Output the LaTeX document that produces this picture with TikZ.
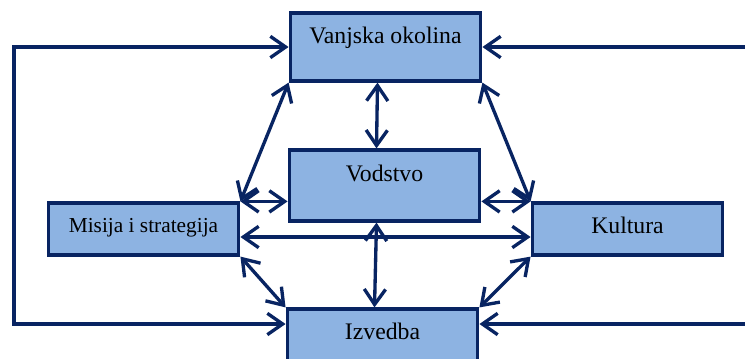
\documentclass[tikz,border=0pt]{standalone}
\usepackage{fontspec}
\setmainfont{Liberation Serif}
\usetikzlibrary{arrows.meta}
\definecolor{navy}{RGB}{8,36,98}
\definecolor{boxblue}{RGB}{141,179,226}
\tikzset{
  box/.style={draw=navy,fill=boxblue,line width=2.4pt,minimum width=143pt,inner sep=0pt,
    font=\fontsize{17.8}{20}\selectfont,text height=11.8pt},
  link/.style={draw=navy,line width=2.5pt}
}
\begin{document}
\begin{tikzpicture}[x=0.75pt,y=-0.75pt,>={Straight Barb[length=11.5pt,width=16pt]}]
    \useasboundingbox (0,0) rectangle (745,358);
    % boxes
    \node[box,minimum height=51pt,text depth=16.5pt] (vanjska) at (385.5,47) {Vanjska okolina};
    \node[box,minimum height=53.25pt,text depth=18pt] (vodstvo) at (384.5,185.5) {Vodstvo};
    \node[box,minimum height=39pt,text depth=6pt,font=\fontsize{16}{18}\selectfont,text height=10.6pt] (misija) at (143.5,229) {Misija i strategija};
    \node[box,minimum height=39pt,text depth=5.25pt] (kultura) at (627.5,229) {Kultura};
    \node[box,minimum height=51pt,text depth=16.5pt] (izvedba) at (382.5,343) {Izvedba};
    % loop on the left, inputs from the right
    \coordinate (loopL) at (14,324);
    \coordinate (inR1) at (752,47);
    \coordinate (inR2) at (752,324);
    \draw[link,<->] (vanjska.west) -| (loopL) -- (loopL -| izvedba.west);
    \draw[link,->] (inR1) -- (vanjska.east);
    \draw[link,->] (inR2) -- (inR2 -| izvedba.east);
    % vertical
    \draw[link,<->] ([xshift=-6pt]vanjska.south) -- ([xshift=-6pt]vodstvo.north);
    \draw[link,<->] ([xshift=-6pt]vodstvo.south) -- ([xshift=-6pt]izvedba.north);
    % diagonals
    \draw[link,<->] (vanjska.south west) -- (misija.north east);
    \draw[link,<->] (vanjska.south east) -- (kultura.north west);
    \draw[link,<->] (misija.south east) -- (izvedba.north west);
    \draw[link,<->] (kultura.south west) -- (izvedba.north east);
    % horizontal
    \draw[link,<->] (misija.north east) -- (misija.north east -| vodstvo.west);
    \draw[link,<->] (kultura.north west -| vodstvo.east) -- (kultura.north west);
    \draw[link,<->] ([yshift=-6pt]misija.east) -- ([yshift=-6pt]kultura.west);
\end{tikzpicture}
\end{document}
